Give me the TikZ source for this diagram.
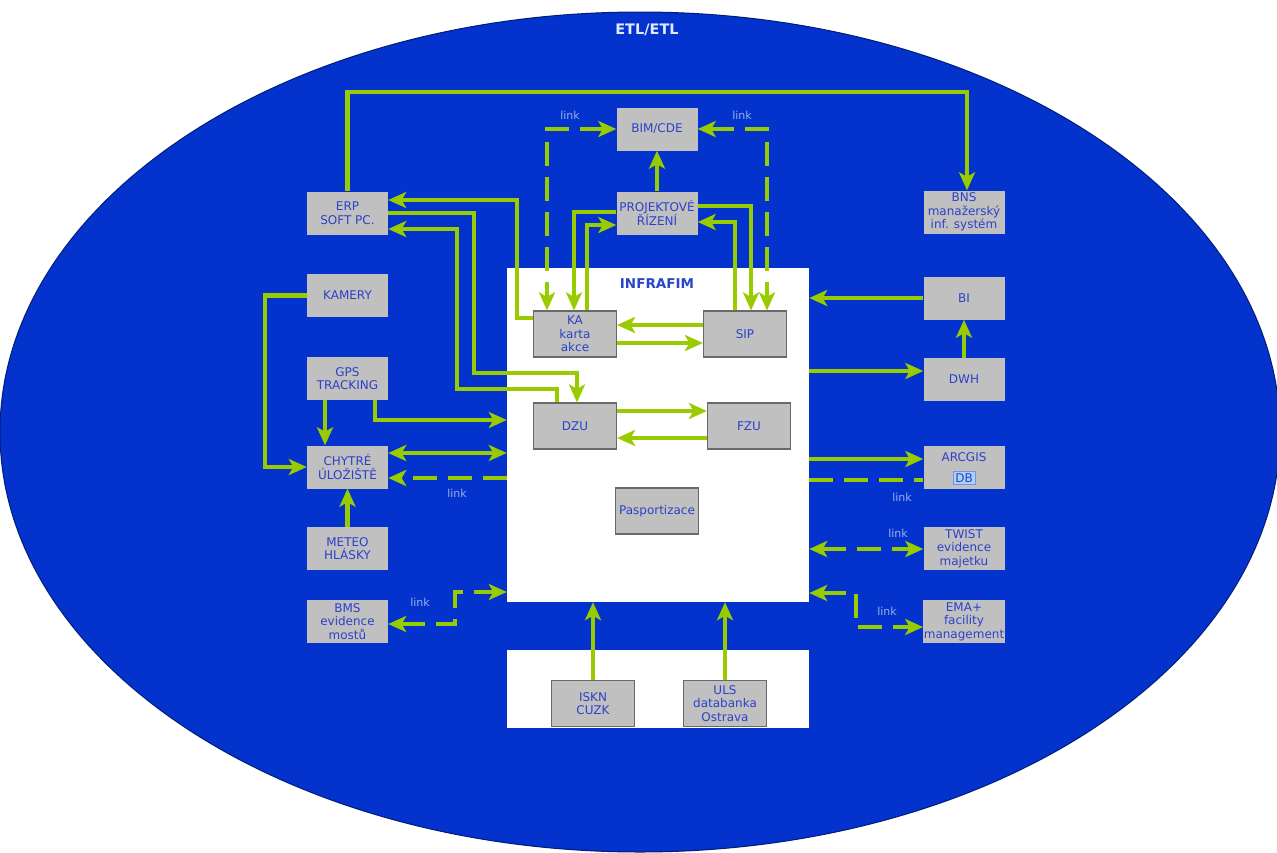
\documentclass[tikz,border=0pt]{standalone}
\usepackage{fontspec}
\setmainfont{DejaVu Sans}
\usetikzlibrary{arrows.meta}

\definecolor{etlblue}{RGB}{4,50,204}
\definecolor{etledge}{RGB}{0,30,120}
\definecolor{etltitle}{RGB}{225,232,255}
\definecolor{flowgreen}{RGB}{153,204,0}
\definecolor{boxgray}{RGB}{192,192,192}
\definecolor{boxtext}{RGB}{45,65,200}
\definecolor{boxline}{RGB}{105,105,105}
\definecolor{linktext}{RGB}{150,175,235}
\definecolor{titleblue}{RGB}{40,70,200}
\definecolor{dbfill}{RGB}{170,210,245}

\newcommand\bxfont{\fontsize{12}{13.5}\selectfont}

\tikzset{
  hd/.tip={Stealth[length=18pt,width=16pt,inset=4.5pt]},
  obox/.style={fill=boxgray, text=boxtext, minimum width=81pt, minimum height=43pt,
               inner sep=0.5pt, align=center, font=\bxfont},
  ibox/.style={obox, draw=boxline, line width=1.2pt, minimum width=83pt, minimum height=46pt},
  panel/.style={fill=white, inner sep=0pt},
  flow/.style={draw=flowgreen, line width=4.5pt, -hd},
  flowboth/.style={draw=flowgreen, line width=4.5pt, hd-hd},
  dlink/.style={flow, dash pattern=on 24pt off 11pt},
  dlinkboth/.style={flowboth, dash pattern=on 24pt off 11pt},
  dlinkplain/.style={draw=flowgreen, line width=4.5pt, dash pattern=on 24pt off 11pt},
  lnk/.style={text=linktext, font=\fontsize{11}{12}\selectfont, inner sep=0pt},
}

\begin{document}
\begin{tikzpicture}[x=1pt, y=-1pt]
  \useasboundingbox (0,0) rectangle (1277,852);
  \fill[white] (0,0) rectangle (1277,852);

  % outer ETL area
  \fill[etlblue, draw=etledge, line width=1pt] (640,432) ellipse [x radius=640pt, y radius=420pt];
  \node[text=etltitle, font=\fontsize{14.5}{16}\selectfont\bfseries] (etl) at (647,30) {ETL/ETL};

  % white panels
  \node[panel, minimum width=302pt, minimum height=334pt] (infra) at (658,435) {};
  \node[panel, minimum width=302pt, minimum height=78pt] (lower) at (658,689) {};
  \node[text=titleblue, font=\fontsize{13.5}{15}\selectfont\bfseries] (infratitle) at (657,284) {INFRAFIM};

  % systems around the core
  \node[obox] (bim) at (657,129) {BIM/CDE};
  \node[obox] (proj) at (657,213) {PROJEKTOVÉ\\ŘÍZENÍ};
  \node[obox] (erp) at (347.5,213) {ERP\\SOFT PC.};
  \node[obox] (bns) at (964,212) {BNS\\manažerský\\inf. systém};
  \node[obox] (kamery) at (347.5,295.5) {KAMERY};
  \node[obox] (gps) at (347.5,378.5) {GPS\\TRACKING};
  \node[obox] (chytre) at (347.5,467) {CHYTRÉ\\ÚLOŽIŠTĚ};
  \node[obox] (meteo) at (347.5,548.5) {METEO\\HLÁSKY};
  \node[obox] (bms) at (347.5,621.5) {BMS\\evidence\\mostů};
  \node[obox] (bi) at (964,298) {BI};
  \node[obox] (dwh) at (964,379.5) {DWH};
  \node[obox] (arcgis) at (964,467) {};
  \node[text=boxtext, font=\bxfont, inner sep=0pt] (arcgislbl) at (964,457) {ARCGIS};
  \node[draw=boxtext!60, fill=dbfill, text=boxtext, font=\bxfont, inner sep=2pt] (arcgisdb) at (964,478) {DB};
  \node[obox] (twist) at (964,548.5) {TWIST\\evidence\\majetku};
  \node[obox] (ema) at (964,621.5) {EMA+\\facility\\management};

  % modules inside INFRAFIM
  \node[ibox] (ka) at (575,334) {KA\\karta\\akce};
  \node[ibox] (sip) at (745,334) {SIP};
  \node[ibox] (dzu) at (575,426) {DZU};
  \node[ibox] (fzu) at (749,426) {FZU};
  \node[ibox] (pasp) at (657,511) {Pasportizace};
  \node[ibox] (iskn) at (593,703.5) {ISKN\\CUZK};
  \node[ibox] (uls) at (725,703.5) {ULS\\databanka\\Ostrava};

  % top links
  \draw[flow] (erp.north) -- (erp.north |- 0,92) -| ([xshift=3pt]bns.north);
  \draw[dlinkboth] (bim.west) -| (ka.north -| 547,0);
  \draw[dlinkboth] (bim.east) -| (sip.north -| 767,0);
  \node[lnk] (lk1) at (570,115) {link};
  \node[lnk] (lk2) at (742,115) {link};
  \draw[flow] (proj.north) -- (bim.south);

  % ERP <-> KA / DZU
  \draw[flow] (ka.west |- 0,318) -| (517,200) -- (erp.east |- 0,200);
  \draw[flow] (erp.east |- 0,213) -| (474,373) -| (dzu.north -| 577,0);
  \draw[flow] (dzu.north -| 557,0) |- (457,389) |- (erp.east |- 0,229);

  % project management <-> KA / SIP
  \draw[flow] (proj.west |- 0,212) -| (ka.north -| 574,0);
  \draw[flow] (ka.north -| 587,0) |- (proj.west |- 0,225);
  \draw[flow] (proj.east |- 0,206) -| (sip.north -| 751,0);
  \draw[flow] (sip.north -| 735,0) |- (proj.east |- 0,222);

  % inside INFRAFIM
  \draw[flow] (sip.west |- 0,325) -- (ka.east |- 0,325);
  \draw[flow] (ka.east |- 0,343) -- (sip.west |- 0,343);
  \draw[flow] (dzu.east |- 0,411) -- (fzu.west |- 0,411);
  \draw[flow] (fzu.west |- 0,438) -- (dzu.east |- 0,438);

  % left side
  \draw[flow] (kamery.west) -- ++(-42,0) |- (chytre.west);
  \draw[flow] (gps.south -| 325,0) -- (chytre.north -| 325,0);
  \draw[flow] (gps.south -| 375,0) |- (infra.west |- 0,420);
  \draw[flowboth] (chytre.east |- 0,453) -- (infra.west |- 0,453);
  \draw[dlink] (infra.west |- 0,478) -- (chytre.east |- 0,478);
  \node[lnk] (lk3) at (457,493) {link};
  \draw[flow] (meteo.north) -- (chytre.south);
  \draw[dlinkboth] (bms.east |- 0,624) -| (455,592) -- (infra.west |- 0,592);
  \node[lnk] (lk4) at (420,602) {link};

  % right side
  \draw[flow] (bi.west) -- (infra.east |- bi.west);
  \draw[flow] (infra.east |- 0,371) -- (dwh.west |- 0,371);
  \draw[flow] (dwh.north) -- (bi.south);
  \draw[flow] (infra.east |- 0,459) -- (arcgis.west |- 0,459);
  \draw[dlinkplain] (infra.east |- 0,480) -- (arcgis.west |- 0,480);
  \node[lnk] (lk5) at (902,497) {link};
  \draw[dlinkboth] (infra.east |- 0,549) -- (twist.west |- 0,549);
  \node[lnk] (lk6) at (898,533) {link};
  \draw[dlinkboth] (infra.east |- 0,593) -| (856,627) -- (ema.west |- 0,627);
  \node[lnk] (lk7) at (887,611) {link};

  % external registers below
  \draw[flow] (iskn.north) -- (infra.south -| iskn.north);
  \draw[flow] (uls.north) -- (infra.south -| uls.north);
\end{tikzpicture}
\end{document}
